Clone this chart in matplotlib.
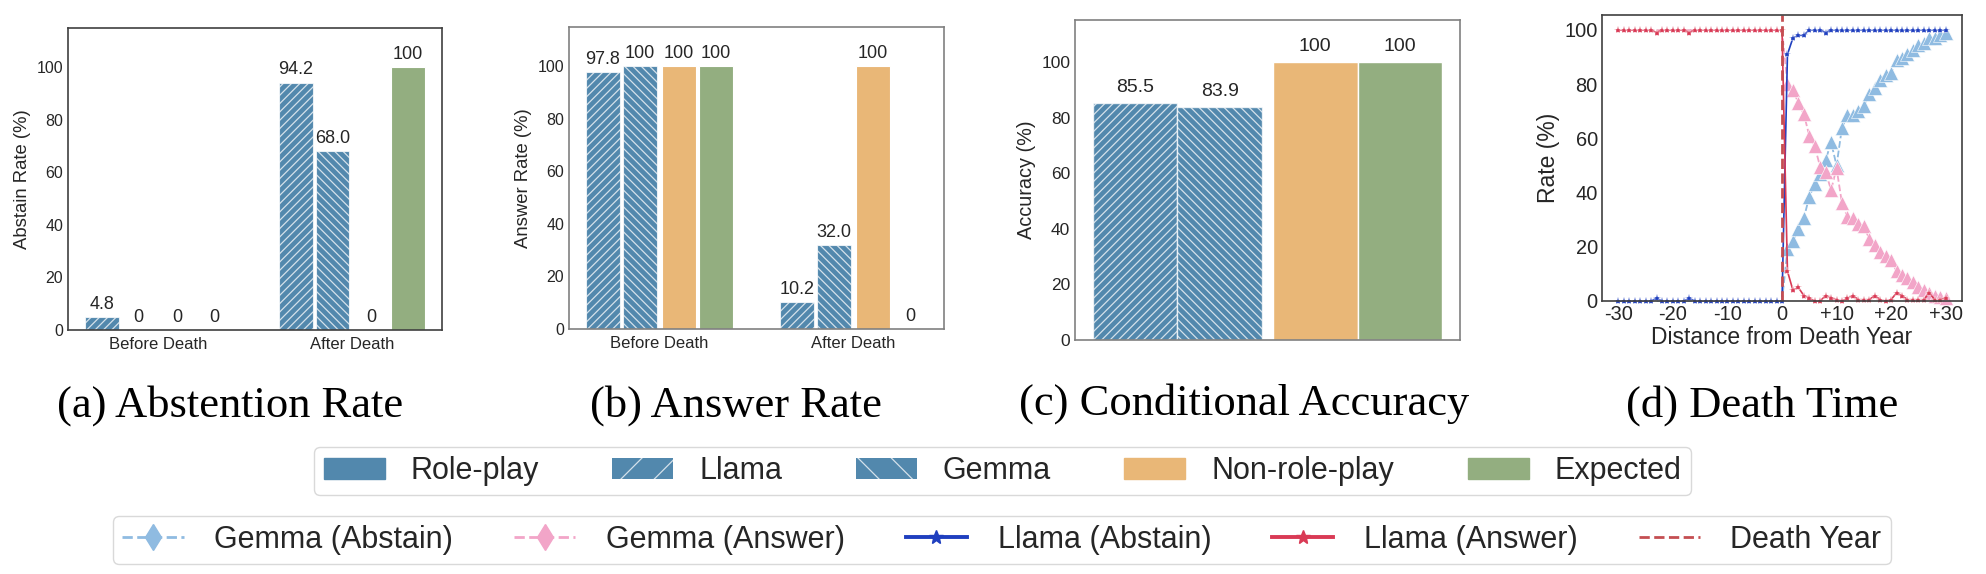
import matplotlib
matplotlib.use("Agg")
import matplotlib.pyplot as plt
from matplotlib.patches import Patch
from matplotlib.lines import Line2D

# ---------------- data ----------------
groups = ["Before Death", "After Death"]
abstain_llama = [4.8, 94.2]
abstain_gemma = [0, 68.0]
abstain_nonrp = [0, 0]
abstain_expected = [0, 100]

answer_llama = [97.8, 10.2]
answer_gemma = [100, 32.0]
answer_nonrp = [100, 100]
answer_expected = [100, 0]

acc_names = ["Llama", "Gemma", "Non-role-play", "Expected"]
acc_values = [85.5, 83.9, 100, 100]

years = [-30, -29, -28, -27, -26, -25, -24, -23, -22, -21, -20, -19, -18, -17, -16,
         -15, -14, -13, -12, -11, -10, -9, -8, -7, -6, -5, -4, -3, -2, -1, 0,
         1, 2, 3, 4, 5, 6, 7, 8, 9, 10, 11, 12, 13, 14, 15, 16, 17, 18, 19, 20,
         21, 22, 23, 24, 25, 26, 27, 28, 29, 30]
gemma_abstain = [0, 0, 0, 0, 0, 0, 0, 0, 0, 0, 0, 0, 0, 0, 0,
                 0, 0, 0, 0, 0, 0, 0, 0, 0, 0, 0, 0, 0, 0, 0, 0,
                 19, 22, 26.5, 30.5, 38.5, 43, 47, 52, 58.5, 50, 64, 68.5, 68.5, 70, 72,
                 76.5, 78.5, 81.5, 83.5, 84, 89, 89.5, 91, 92.5, 94.5, 95, 97, 97, 98, 99]
gemma_answer = [100, 100, 100, 100, 100, 100, 100, 100, 100, 100, 100, 100, 100, 100, 100,
                100, 100, 100, 100, 100, 100, 100, 100, 100, 100, 100, 100, 100, 100, 100, 100,
                80, 78, 73, 69, 61, 57, 49.5, 47.5, 41, 49, 36, 31, 30.5, 28.5, 27.5,
                23, 20.5, 18, 16.5, 15, 11, 9.5, 8.5, 7, 5, 4, 3, 2, 1.5, 1]
llama_abstain = [0, 0, 0, 0, 0, 0, 0, 1, 0, 0, 0, 0, 0, 1, 0,
                 0, 0, 0, 0, 0, 0, 0, 0, 0, 0, 0, 0, 0, 0, 0, 0,
                 91, 97, 98, 98, 100, 100, 100, 99, 100, 100, 100, 100, 100, 100, 100,
                 100, 100, 100, 100, 100, 100, 100, 100, 100, 100, 100, 100, 100, 100, 100]
llama_answer = [100, 100, 100, 100, 100, 100, 100, 99, 100, 100, 100, 100, 100, 99, 100,
                100, 100, 100, 100, 100, 100, 100, 100, 100, 100, 100, 100, 100, 100, 100, 100,
                11, 4, 5, 2, 1, 0, 0, 2, 1, 0.5, 0, 1, 2, 0.5, 0.5,
                0.5, 2, 0.5, 0, 0.5, 3, 2, 0.5, 0.5, 0.5, 0.5, 3, 0.5, 0.5, 1]
death_year = 0
xtick_vals = [-30, -20, -10, 0, 10, 20, 30]
xtick_labels = ["-30", "-20", "-10", "0", "+10", "+20", "+30"]

# ---------------- style ----------------
plt.rcParams["font.family"] = ["Liberation Sans", "DejaVu Sans"]
plt.rcParams["text.color"] = "0.15"
plt.rcParams["axes.labelcolor"] = "0.15"
plt.rcParams["xtick.color"] = "0.15"
plt.rcParams["ytick.color"] = "0.15"
plt.rcParams["xtick.major.size"] = 0
plt.rcParams["ytick.major.size"] = 0
plt.rcParams["hatch.linewidth"] = 0.9

BLUE = "#5288ad"
ORANGE = "#e9b777"
GREEN = "#93ae80"
HATCH_EC = (1, 1, 1, 0.75)
H_LLAMA = "////"
H_GEMMA = "\\\\\\\\"

C_GAB = "#8fbbe1"
C_GAN = "#f2a5c8"
C_LAB = "#1f3fbf"
C_LAN = "#d93a55"
C_DEATH = "#c44e52"

W, H = 1986, 574
fig = plt.figure(figsize=(W / 100, H / 100), dpi=100)


def add_ax(l, t, r, b):
    return fig.add_axes([l / W, 1 - b / H, (r - l) / W, (b - t) / H])


def fmt(v):
    if v == 100 or v == 0:
        return f"{v:.0f}"
    return f"{v:.1f}"


offsets = [-0.29, -0.1, 0.1, 0.29]
bw = 0.175


def grouped(ax, series, ylabel, spine_c, tick_fs, lab_fs, val_fs):
    xs = list(range(len(groups)))
    styles = [(BLUE, H_LLAMA), (BLUE, H_GEMMA), (ORANGE, None), (GREEN, None)]
    for (vals, (col, hat)), off in zip(zip(series, styles), offsets):
        bars = ax.bar([x + off for x in xs], vals, bw, color=col, hatch=hat,
                      edgecolor=HATCH_EC if hat else "white", linewidth=0.8)
        ax.bar_label(bars, labels=[fmt(v) for v in vals], padding=3, fontsize=val_fs,
                     color="0.15")
    ax.set_xticks(xs)
    ax.set_xticklabels(groups, fontsize=tick_fs + 0.5)
    ax.set_ylim(0, 115)
    ax.set_yticks([0, 20, 40, 60, 80, 100])
    ax.tick_params(axis="y", labelsize=tick_fs)
    ax.tick_params(axis="x", pad=5)
    ax.set_ylabel(ylabel, fontsize=lab_fs)
    for s in ax.spines.values():
        s.set_color(spine_c)
        s.set_linewidth(1.2)


# (a)
ax_a = add_ax(68, 28, 442, 330)
grouped(ax_a, [abstain_llama, abstain_gemma, abstain_nonrp, abstain_expected],
        "Abstain Rate (%)", "0.25", 11.5, 13.3, 13)

# (b)
ax_b = add_ax(569, 27, 944, 329)
grouped(ax_b, [answer_llama, answer_gemma, answer_nonrp, answer_expected],
        "Answer Rate (%)", "0.5", 11.5, 13.3, 13)

# (c)
ax_c = add_ax(1075, 20, 1460, 340)
acc_x = [0, 1, 2.12, 3.12]
acc_cols = [BLUE, BLUE, ORANGE, GREEN]
acc_hatch = [H_LLAMA, H_GEMMA, None, None]
for x, v, c, h in zip(acc_x, acc_values, acc_cols, acc_hatch):
    b = ax_c.bar([x], [v], 1.0, color=c, hatch=h,
                 edgecolor=HATCH_EC if h else "white", linewidth=1.0)
    ax_c.bar_label(b, labels=[fmt(v)], padding=5, fontsize=14, color="0.15")
ax_c.set_xticks([])
ax_c.set_ylim(0, 115.2)
ax_c.set_yticks([0, 20, 40, 60, 80, 100])
ax_c.tick_params(axis="y", labelsize=12.5)
ax_c.set_ylabel("Accuracy (%)", fontsize=14.3)
for s in ax_c.spines.values():
    s.set_color("0.5")
    s.set_linewidth(1.2)

# (d)
ax_d = add_ax(1602, 15, 1962, 301)
post = [i for i, y in enumerate(years) if y > death_year]
ax_d.plot(years, gemma_abstain, color=C_GAB, ls="--", lw=1.3, marker="^", ms=9.5,
          mec="white", mew=0.4, markevery=post, clip_on=False)
ax_d.plot(years, gemma_answer, color=C_GAN, ls="--", lw=1.3, marker="^", ms=9.5,
          mec="white", mew=0.4, markevery=post, clip_on=False)
ax_d.plot(years, llama_abstain, color=C_LAB, ls="-", lw=1.2, marker="*", ms=6,
          mec="white", mew=0.3, clip_on=False)
ax_d.plot(years, llama_answer, color=C_LAN, ls="-", lw=1.2, marker="*", ms=6,
          mec="white", mew=0.3, clip_on=False)
ax_d.axvline(death_year, color=C_DEATH, ls="--", lw=2)
ax_d.set_xlim(-33, 33)
ax_d.set_ylim(0, 105.5)
ax_d.set_xticks(xtick_vals)
ax_d.set_xticklabels(xtick_labels)
ax_d.set_yticks([0, 20, 40, 60, 80, 100])
ax_d.tick_params(labelsize=14.4, pad=3)
ax_d.set_xlabel("Distance from Death Year", fontsize=16.5, labelpad=1)
ax_d.set_ylabel("Rate (%)", fontsize=16.5, labelpad=3)
for s in ax_d.spines.values():
    s.set_color("0.25")
    s.set_linewidth(1.2)

# captions
cap_font = ["Liberation Serif", "DejaVu Serif"]
for cx, cy, txt in [(230, 406, "(a) Abstention Rate"), (736, 406, "(b) Answer Rate"),
                    (1244, 404, "(c) Conditional Accuracy"), (1762, 406, "(d) Death Time")]:
    fig.text(cx / W, 1 - cy / H, txt, ha="center", va="center", fontsize=32,
             family=cap_font, color="black")

# legends
h1 = [Patch(facecolor=BLUE, edgecolor=BLUE, label="Role-play"),
      Patch(facecolor=BLUE, edgecolor=HATCH_EC, hatch="/", lw=0, label="Llama"),
      Patch(facecolor=BLUE, edgecolor=HATCH_EC, hatch="\\", lw=0, label="Gemma"),
      Patch(facecolor=ORANGE, edgecolor=ORANGE, label="Non-role-play"),
      Patch(facecolor=GREEN, edgecolor=GREEN, label="Expected")]
leg1 = fig.legend(handles=h1, loc="center", bbox_to_anchor=(1002.5 / W, 1 - 471 / H),
                  ncol=5, fontsize=22, frameon=True, fancybox=True, edgecolor="0.85",
                  framealpha=1, handlelength=2.0, handleheight=0.7, handletextpad=0.85,
                  columnspacing=2.4, borderpad=0.3)
for t in leg1.get_texts():
    t.set_color("0.15")

h2 = [Line2D([], [], color=C_GAB, ls="--", lw=2, marker="d", ms=13, mec=C_GAB,
             label="Gemma (Abstain)"),
      Line2D([], [], color=C_GAN, ls="--", lw=2, marker="d", ms=13, mec=C_GAN,
             label="Gemma (Answer)"),
      Line2D([], [], color=C_LAB, ls="-", lw=2.8, marker="*", ms=10, mec=C_LAB,
             label="Llama (Abstain)"),
      Line2D([], [], color=C_LAN, ls="-", lw=2.8, marker="*", ms=10, mec=C_LAN,
             label="Llama (Answer)"),
      Line2D([], [], color=C_DEATH, ls="--", lw=2, label="Death Year")]
leg2 = fig.legend(handles=h2, loc="center", bbox_to_anchor=(1002 / W, 1 - 540 / H),
                  ncol=5, fontsize=22, frameon=True, fancybox=True, edgecolor="0.85",
                  framealpha=1, handlelength=2.0, handletextpad=1.0,
                  columnspacing=2.0, borderpad=0.3)
for t in leg2.get_texts():
    t.set_color("0.15")

fig.savefig("out.png", dpi=100)
